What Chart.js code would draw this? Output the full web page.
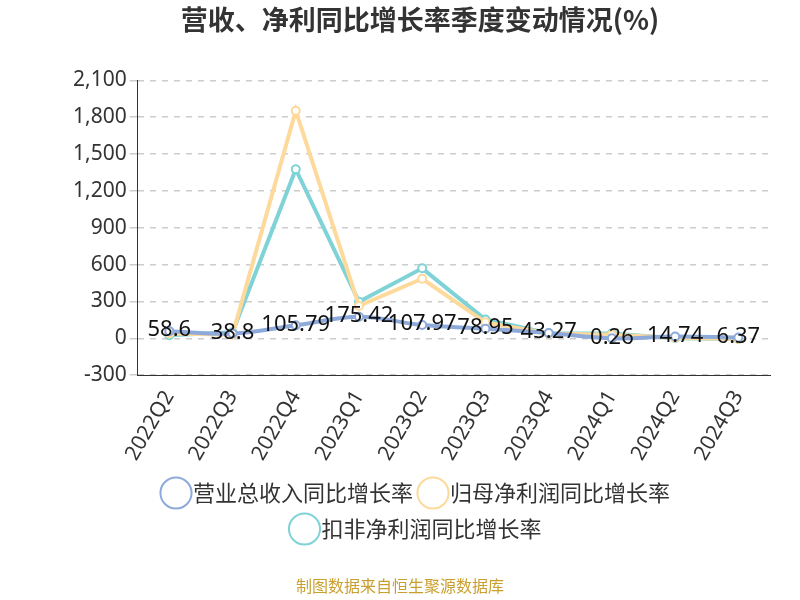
<!DOCTYPE html>
<html><head><meta charset="utf-8">
<script src="https://cdn.jsdelivr.net/npm/chart.js@4"></script>
<style>body{margin:0;background:#fff}#w{width:800px;height:600px}</style>
</head><body><div id="w"><canvas id="c"></canvas></div>
<script>
const categories=['2022Q2','2022Q3','2022Q4','2023Q1','2023Q2','2023Q3','2023Q4','2024Q1','2024Q2','2024Q3'];
const revenueGrowth=[58.6,38.8,105.79,175.42,107.97,78.95,43.27,0.26,14.74,6.37];
const netProfitGrowth=[40,30,1853,264,485,130,40,30,5,-5];
const deductedProfitGrowth=[25,50,1377,298,570,153,42,40,0,-5];
const yTicks=[-300,0,300,600,900,1200,1500,1800,2100];
const F='"Noto Sans","Noto Sans CJK SC",sans-serif';
const labelPlugin={id:'lbl',afterDatasetsDraw(ch){const c=ch.ctx;const m=ch.getDatasetMeta(0);c.save();c.font='22px '+F;c.fillStyle='#111';c.textAlign='center';c.textBaseline='bottom';m.data.forEach((p,i)=>c.fillText(String(revenueGrowth[i]),p.x,p.y+10));c.restore();}};
const footPlugin={id:'foot',afterDraw(ch){const c=ch.ctx;c.save();c.font='16px "Noto Sans CJK SC",sans-serif';c.fillStyle='#c9a030';c.textAlign='center';c.textBaseline='alphabetic';c.fillText('制图数据来自恒生聚源数据库',400,592);c.restore();}};
const ds=(l,d,col,t)=>({label:l,data:d,borderColor:col,backgroundColor:'#fff',borderWidth:4,pointRadius:4,pointBorderWidth:2,pointBackgroundColor:'#fff',pointBorderColor:col,tension:t});
new Chart(document.getElementById('c'),{type:'line',
data:{labels:categories,datasets:[ds('营业总收入同比增长率',revenueGrowth,'#8eaadb',0.35),ds('归母净利润同比增长率',netProfitGrowth,'#fdd99b',0),ds('扣非净利润同比增长率',deductedProfitGrowth,'#7fd3d6',0)]},
options:{responsive:true,maintainAspectRatio:false,animation:false,
layout:{padding:{left:70,right:30,bottom:50,top:0}},
plugins:{title:{display:true,text:'营收、净利同比增长率季度变动情况(%)',font:{family:'"Noto Sans CJK SC",sans-serif',size:27,weight:'bold'},color:'#333',padding:{top:4,bottom:44}},
legend:{position:'bottom',align:'center',labels:{font:{family:'"Noto Sans CJK SC",sans-serif',size:22},color:'#333',usePointStyle:true,pointStyle:'circle',boxWidth:12,padding:14},onClick:null},tooltip:{enabled:false}},
scales:{x:{offset:true,grid:{display:false},border:{color:'#333'},ticks:{font:{family:F,size:21},color:'#333',maxRotation:60,minRotation:60}},
y:{min:-300,max:2100,afterBuildTicks:a=>{a.ticks=yTicks.map(v=>({value:v}));},grid:{color:'#ccc',lineWidth:1.5,tickLength:8},border:{color:'#333',dash:[6,6]},ticks:{font:{family:F,size:21},color:'#333',callback:v=>v.toLocaleString('en-US')}}}},
plugins:[labelPlugin,footPlugin]});
</script></body></html>
